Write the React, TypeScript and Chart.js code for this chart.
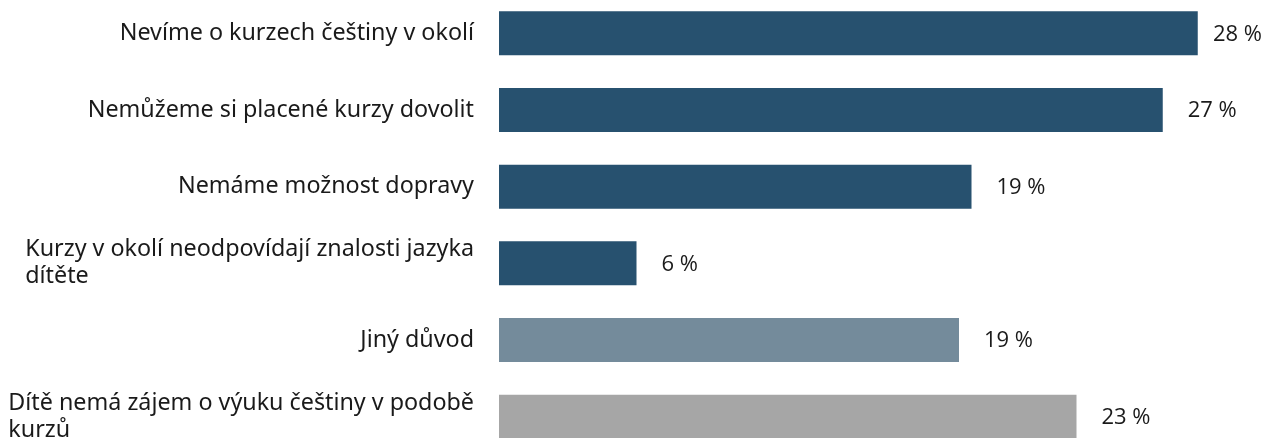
import React, { useEffect, useRef } from "react";
import { Chart, registerables } from "chart.js";

Chart.register(...registerables);

const categories: string[][] = [
  ["Nevíme o kurzech češtiny v okolí"],
  ["Nemůžeme si placené kurzy dovolit"],
  ["Nemáme možnost dopravy"],
  ["Kurzy v okolí neodpovídají znalosti jazyka", "dítěte"],
  ["Jiný důvod"],
  ["Dítě nemá zájem o výuku češtiny v podobě", "kurzů"],
];
const values: number[] = [27.95, 26.55, 18.9, 5.5, 18.4, 23.1];
const valueLabels: string[] = ["28 %", "27 %", "19 %", "6 %", "19 %", "23 %"];
const barColors: string[] = ["#27516F", "#27516F", "#27516F", "#27516F", "#748B9B", "#A6A6A6"];
const xMax = 30;

const LABEL_FONT = '23.3px "Noto Sans", sans-serif';
const VALUE_FONT = '22px "Open Sans", sans-serif';
const TEXT_COLOR = "#1a1a1a";
const LINE_HEIGHT = 27;

const labelPlugin = {
  id: "customLabels",
  afterDatasetsDraw(chart: any) {
    const ctx = chart.ctx as CanvasRenderingContext2D;
    const yScale = chart.scales.y;
    const area = chart.chartArea;
    const meta = chart.getDatasetMeta(0);
    ctx.save();
    ctx.fillStyle = TEXT_COLOR;
    ctx.textBaseline = "middle";
    ctx.font = LABEL_FONT;
    ctx.textAlign = "left";
    const rightEdge = area.left - 25;
    categories.forEach((lines, i) => {
      const cy = yScale.getPixelForValue(i);
      const maxW = Math.max(...lines.map((l) => ctx.measureText(l).width));
      const x0 = rightEdge - maxW;
      const startY = cy - ((lines.length - 1) * LINE_HEIGHT) / 2;
      lines.forEach((l, j) => ctx.fillText(l, x0, startY + j * LINE_HEIGHT));
    });
    ctx.font = VALUE_FONT;
    meta.data.forEach((bar: any, i: number) => {
      const txt = valueLabels[i];
      const w = ctx.measureText(txt).width;
      const x = Math.min(bar.x + 25, chart.width - 4 - w);
      ctx.fillText(txt, x, bar.y + 1);
    });
    ctx.restore();
  },
};

export default function App() {
  const canvasRef = useRef<HTMLCanvasElement | null>(null);
  useEffect(() => {
    if (!canvasRef.current) return;
    const chart = new Chart(canvasRef.current, {
      type: "bar",
      data: {
        labels: categories.map((c) => c.join(" ")),
        datasets: [
          {
            data: values,
            backgroundColor: barColors,
            borderWidth: 0,
            categoryPercentage: 1,
            barPercentage: 0.574,
          },
        ],
      },
      options: {
        indexAxis: "y",
        animation: false,
        responsive: true,
        maintainAspectRatio: false,
        layout: { padding: { left: 499, right: 17, top: 0, bottom: 0 } },
        plugins: { legend: { display: false }, tooltip: { enabled: false } },
        scales: {
          x: { display: false, min: 0, max: xMax },
          y: { display: false },
        },
      },
      plugins: [labelPlugin],
    });
    return () => chart.destroy();
  }, []);
  return (
    <div style={{ position: "fixed", top: -5, left: 0, width: 1266, height: 460, background: "#fff" }}>
      <canvas ref={canvasRef} />
    </div>
  );
}
